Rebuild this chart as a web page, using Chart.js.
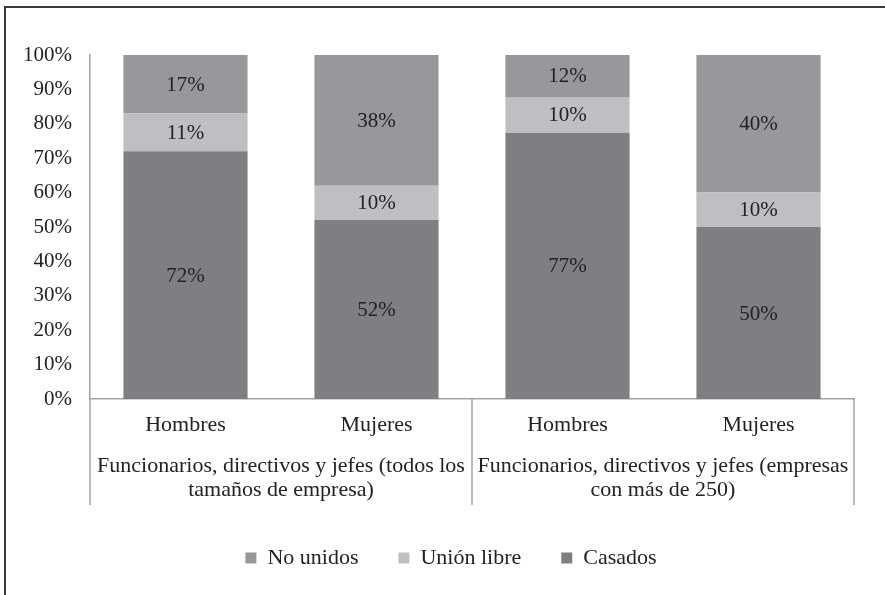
<!DOCTYPE html>
<html>
<head>
<meta charset="utf-8">
<script src="https://cdn.jsdelivr.net/npm/chart.js@4"></script>
<style>
  body { margin: 0; background: #fff; }
  #wrap { width: 885px; height: 595px; }
</style>
</head>
<body>
<div id="wrap"><canvas id="mainChart" width="885" height="595"></canvas></div>
<script>
const categories = ['Hombres', 'Mujeres', 'Hombres', 'Mujeres'];
const groups = [
    ['Funcionarios, directivos y jefes (todos los', 'tamaños de empresa)'],
    ['Funcionarios, directivos y jefes (empresas', 'con más de 250)']
];
const casados = [72, 52, 77.4, 50];
const unionLibre = [11, 10, 10.4, 10];
const noUnidos = [17, 38, 12.2, 40];
const yTicks = [0, 10, 20, 30, 40, 50, 60, 70, 80, 90, 100];

const FONT = "'Liberation Serif', 'DejaVu Serif', serif";
const TEXT = '#222';
const AXIS = '#a3a3a3';

// marco exterior (solo izquierda y arriba, como en la figura)
const framePlugin = {
    id: 'frame',
    beforeDraw(chart) {
        const ctx = chart.ctx;
        ctx.save();
        ctx.strokeStyle = '#3a3a3a';
        ctx.lineWidth = 2;
        ctx.beginPath();
        ctx.moveTo(5, 595);
        ctx.lineTo(5, 7);
        ctx.lineTo(885, 7);
        ctx.stroke();
        ctx.restore();
    }
};

// la leyenda está centrada en todo el ancho, no en el área del gráfico
const legendShift = {
    id: 'legendShift',
    afterLayout(chart) {
        chart.legend.left += 24;
        chart.legend.right += 24;
    }
};

// separadores verticales del eje de categorías agrupadas
const separatorPlugin = {
    id: 'separators',
    afterDraw(chart) {
        const x = chart.scales.x, x2 = chart.scales.x2;
        const ctx = chart.ctx;
        const top = chart.chartArea.bottom;
        const bottom = x2.top + 61;
        const mid = (x.getPixelForValue(1) + x.getPixelForValue(2)) / 2;
        ctx.save();
        ctx.strokeStyle = AXIS;
        ctx.lineWidth = 1.5;
        [x2.left, mid, x2.right].forEach(px => {
            ctx.beginPath();
            ctx.moveTo(px, top);
            ctx.lineTo(px, bottom);
            ctx.stroke();
        });
        ctx.restore();
    }
};

// etiquetas de valor dentro de cada segmento
const valueLabels = {
    id: 'valueLabels',
    afterDatasetsDraw(chart) {
        const ctx = chart.ctx;
        ctx.save();
        ctx.font = '21px ' + FONT;
        ctx.fillStyle = TEXT;
        ctx.textAlign = 'center';
        ctx.textBaseline = 'middle';
        chart.data.datasets.forEach((ds, i) => {
            chart.getDatasetMeta(i).data.forEach((bar, j) => {
                const y = (bar.y + bar.base) / 2 + 1;
                ctx.fillText(Math.round(ds.data[j]) + '%', bar.x, y);
            });
        });
        ctx.restore();
    }
};

new Chart(document.getElementById('mainChart'), {
    type: 'bar',
    data: {
        labels: categories,
        datasets: [
            { label: 'Casados', data: casados, backgroundColor: '#7e7f83' },
            { label: 'Unión libre', data: unionLibre, backgroundColor: '#bebfc3' },
            { label: 'No unidos', data: noUnidos, backgroundColor: '#97989c' }
        ]
    },
    options: {
        responsive: false,
        animation: false,
        layout: { padding: { left: 0, top: 55, right: 31, bottom: 16 } },
        datasets: { bar: { barPercentage: 0.65, categoryPercentage: 1, borderWidth: 0 } },
        plugins: {
            legend: {
                position: 'bottom',
                reverse: true,
                labels: {
                    boxWidth: 11, boxHeight: 11, padding: 40,
                    color: TEXT,
                    font: { family: FONT, size: 22 }
                }
            },
            tooltip: { enabled: false }
        },
        scales: {
            x: {
                stacked: true,
                grid: { display: false, drawTicks: false },
                border: { display: true, color: AXIS, width: 1.5 },
                ticks: { color: TEXT, padding: 13, font: { family: FONT, size: 22, lineHeight: 1.2 } },
                afterFit: s => { s.height = 45; }
            },
            x2: {
                type: 'category',
                position: 'bottom',
                labels: groups,
                offset: true,
                grid: { display: false, drawTicks: false },
                border: { display: false },
                ticks: { color: TEXT, padding: 10, maxRotation: 0, autoSkip: false, font: { family: FONT, size: 22, lineHeight: 1.1 } },
                afterFit: s => { s.height = 63; }
            },
            y: {
                stacked: true,
                min: 0, max: 100,
                grid: { display: false, drawTicks: false },
                border: { display: true, color: AXIS, width: 1.5 },
                afterBuildTicks: s => { s.ticks = yTicks.map(v => ({ value: v })); },
                ticks: {
                    color: TEXT, padding: 18,
                    font: { family: FONT, size: 21 },
                    callback: v => v + '%'
                },
                afterFit: s => { s.width = 90; }
            }
        }
    },
    plugins: [framePlugin, legendShift, separatorPlugin, valueLabels]
});
</script>
</body>
</html>
